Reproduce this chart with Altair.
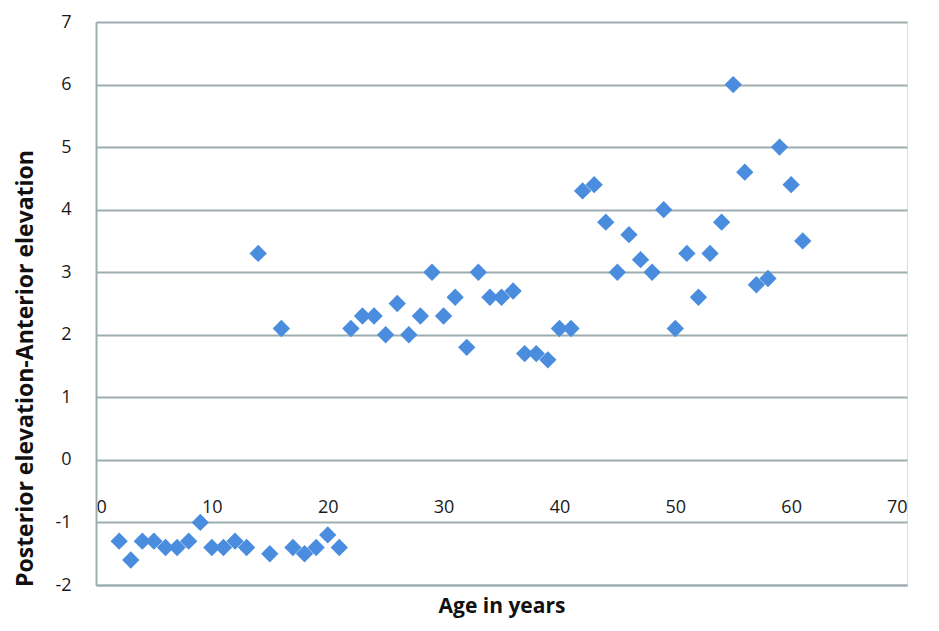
import altair as alt
import pandas as pd

ages = list(range(2, 62))
diffs = [
    -1.3, -1.6, -1.3, -1.3, -1.4, -1.4, -1.3, -1.0, -1.4, -1.4,  # 2-11
    -1.3, -1.4, 3.3, -1.5, 2.1, -1.4, -1.5, -1.4, -1.2, -1.4,    # 12-21
    2.1, 2.3, 2.3, 2.0, 2.5, 2.0, 2.3, 3.0, 2.3, 2.6,            # 22-31
    1.8, 3.0, 2.6, 2.6, 2.7, 1.7, 1.7, 1.6, 2.1, 2.1,            # 32-41
    4.3, 4.4, 3.8, 3.0, 3.6, 3.2, 3.0, 4.0, 2.1, 3.3,            # 42-51
    2.6, 3.3, 3.8, 6.0, 4.6, 2.8, 2.9, 5.0, 4.4, 3.5,            # 52-61
]
x_ticks = [0, 10, 20, 30, 40, 50, 60, 70]
y_ticks = [-2, -1, 0, 1, 2, 3, 4, 5, 6, 7]

df = pd.DataFrame({"age": ages, "diff": diffs})

grid_color = "#9DADAF"
font = "Open Sans"
label_expr = "datum.value < 0 ? '-' + abs(datum.value) : '' + datum.value"

points = alt.Chart(df).mark_point(
    shape="diamond", filled=True, size=300, color="#4A8CDE", opacity=1
).encode(
    x=alt.X(
        "age:Q",
        scale=alt.Scale(domain=[0, 70], nice=False, zero=False),
        axis=alt.Axis(
            values=x_ticks,
            title="Age in years",
            grid=False,
            ticks=False,
            domainColor=grid_color,
            domainWidth=2,
            labelPadding=-87,
            labelFontSize=18,
            labelFont=font,
            labelColor="#1a1a1a",
            labelExpr=label_expr,
            titleFont=font,
            titleFontSize=21,
            titleFontWeight="bold",
            titleColor="#111",
            titlePadding=10,
        ),
    ),
    y=alt.Y(
        "diff:Q",
        scale=alt.Scale(domain=[-2, 7], nice=False, zero=False),
        axis=alt.Axis(
            values=y_ticks,
            title="Posterior elevation-Anterior elevation",
            grid=True,
            gridColor=grid_color,
            gridWidth=2,
            ticks=False,
            domainColor=grid_color,
            domainWidth=2,
            labelPadding=25,
            labelFontSize=18,
            labelFont=font,
            labelColor="#1a1a1a",
            labelExpr=label_expr,
            titleFont=font,
            titleFontSize=23,
            titleFontWeight="bold",
            titleColor="#111",
            titlePadding=17,
            titleY=346,
        ),
    ),
)

chart = points.properties(
    width=811, height=563, padding={"left": 6, "top": 5, "right": 5, "bottom": 5}
).configure_view(stroke=None).configure(background="white")

chart.save("out.html", embed_options={"renderer": "svg", "actions": False})
